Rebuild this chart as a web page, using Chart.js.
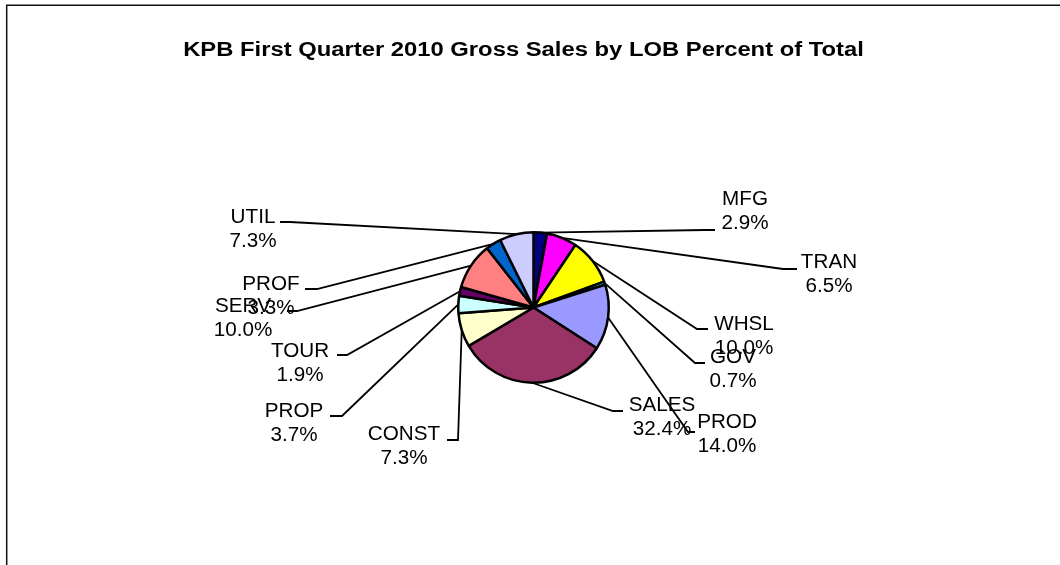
<!DOCTYPE html>
<html>
<head>
<meta charset="utf-8">
<script src="https://cdn.jsdelivr.net/npm/chart.js@4"></script>
<style>
  html, body { margin: 0; padding: 0; background: #fff; }
  #wrap { width: 1060px; height: 565px; }
</style>
</head>
<body>
<div id="wrap"><canvas id="c" width="1060" height="565"></canvas></div>
<script>
// ---- data ----
const chartTitle = 'KPB First Quarter 2010 Gross Sales by LOB Percent of Total';
const categories = ['MFG', 'TRAN', 'WHSL', 'GOV', 'PROD', 'SALES', 'CONST', 'PROP', 'TOUR', 'SERV', 'PROF', 'UTIL'];
const percentValues = [2.9, 6.5, 10.0, 0.7, 14.0, 32.4, 7.3, 3.7, 1.9, 10.0, 3.3, 7.3];

// ---- styles ----
const sliceColors = ['#000080', '#FF00FF', '#FFFF00', '#00FFFF', '#9999FF', '#993366',
                     '#FFFFCC', '#CCFFFF', '#660066', '#FF8080', '#0066CC', '#CCCCFF'];

// label layout: elbow point of leader, end of leader, text centre x, first baseline y
const labelLayout = {
  MFG:   { elbow: [705, 230], end: 715, cx: 745, by: 205 },
  TRAN:  { elbow: [783, 269], end: 797, cx: 829, by: 268 },
  WHSL:  { elbow: [697, 329], end: 708, cx: 744, by: 330 },
  GOV:   { elbow: [695, 363], end: 705, cx: 733, by: 363 },
  PROD:  { elbow: [688, 432], end: 695, cx: 727, by: 428 },
  SALES: { elbow: [613, 411], end: 623, cx: 662, by: 411 },
  CONST: { elbow: [458, 440], end: 447, cx: 404, by: 440 },
  PROP:  { elbow: [342, 416], end: 330, cx: 294, by: 417 },
  TOUR:  { elbow: [347, 355], end: 337, cx: 300, by: 357 },
  SERV:  { elbow: [297, 311], end: 287, cx: 243, by: 312 },
  PROF:  { elbow: [317, 289], end: 305, cx: 271, by: 290 },
  UTIL:  { elbow: [290, 222], end: 280, cx: 253, by: 223 }
};

function drawScaledText(ctx, text, cx, y, font, sx) {
  ctx.save();
  ctx.translate(cx, y);
  ctx.scale(sx, 1);
  ctx.font = font;
  ctx.textAlign = 'center';
  ctx.textBaseline = 'alphabetic';
  ctx.fillStyle = '#000';
  ctx.fillText(text, 0, 0);
  ctx.restore();
}

const framePlugin = {
  id: 'frame',
  beforeDraw(chart) {
    const ctx = chart.ctx;
    ctx.save();
    ctx.strokeStyle = '#111';
    ctx.lineWidth = 1.5;
    ctx.beginPath();
    ctx.moveTo(6.7, chart.height);
    ctx.lineTo(6.7, 5.3);
    ctx.lineTo(chart.width, 5.3);
    ctx.stroke();
    ctx.restore();
    drawScaledText(ctx, chartTitle, 523.5, 56, 'bold 20px "Liberation Sans", Arial, sans-serif', 1.19);
  }
};

const leaderPlugin = {
  id: 'leaders',
  afterDatasetsDraw(chart) {
    const ctx = chart.ctx;
    const meta = chart.getDatasetMeta(0);
    meta.data.forEach((arc, i) => {
      const p = arc.getProps(['x', 'y', 'startAngle', 'endAngle', 'outerRadius'], true);
      const mid = (p.startAngle + p.endAngle) / 2;
      const ax = p.x + Math.cos(mid) * p.outerRadius;
      const ay = p.y + Math.sin(mid) * p.outerRadius;
      const lay = labelLayout[categories[i]];
      ctx.save();
      ctx.strokeStyle = '#000';
      ctx.lineWidth = 1.8;
      ctx.beginPath();
      ctx.moveTo(ax, ay);
      ctx.lineTo(lay.elbow[0], lay.elbow[1]);
      ctx.lineTo(lay.end, lay.elbow[1]);
      ctx.stroke();
      ctx.restore();
    });
    meta.data.forEach((arc, i) => {
      const lay = labelLayout[categories[i]];
      const font = '19.5px "Liberation Sans", Arial, sans-serif';
      drawScaledText(ctx, categories[i], lay.cx, lay.by, font, 1.06);
      drawScaledText(ctx, percentValues[i].toFixed(1) + '%', lay.cx, lay.by + 24, font, 1.06);
    });
  }
};

new Chart(document.getElementById('c'), {
  type: 'pie',
  data: {
    labels: categories,
    datasets: [{
      data: percentValues,
      backgroundColor: sliceColors,
      borderColor: '#000',
      borderWidth: 2.5
    }]
  },
  options: {
    responsive: false,
    animation: false,
    devicePixelRatio: 1,
    layout: { padding: { left: 457, right: 450, top: 231, bottom: 181 } },
    plugins: {
      legend: { display: false },
      tooltip: { enabled: false },
      title: { display: false }
    }
  },
  plugins: [framePlugin, leaderPlugin]
});
</script>
</body>
</html>
